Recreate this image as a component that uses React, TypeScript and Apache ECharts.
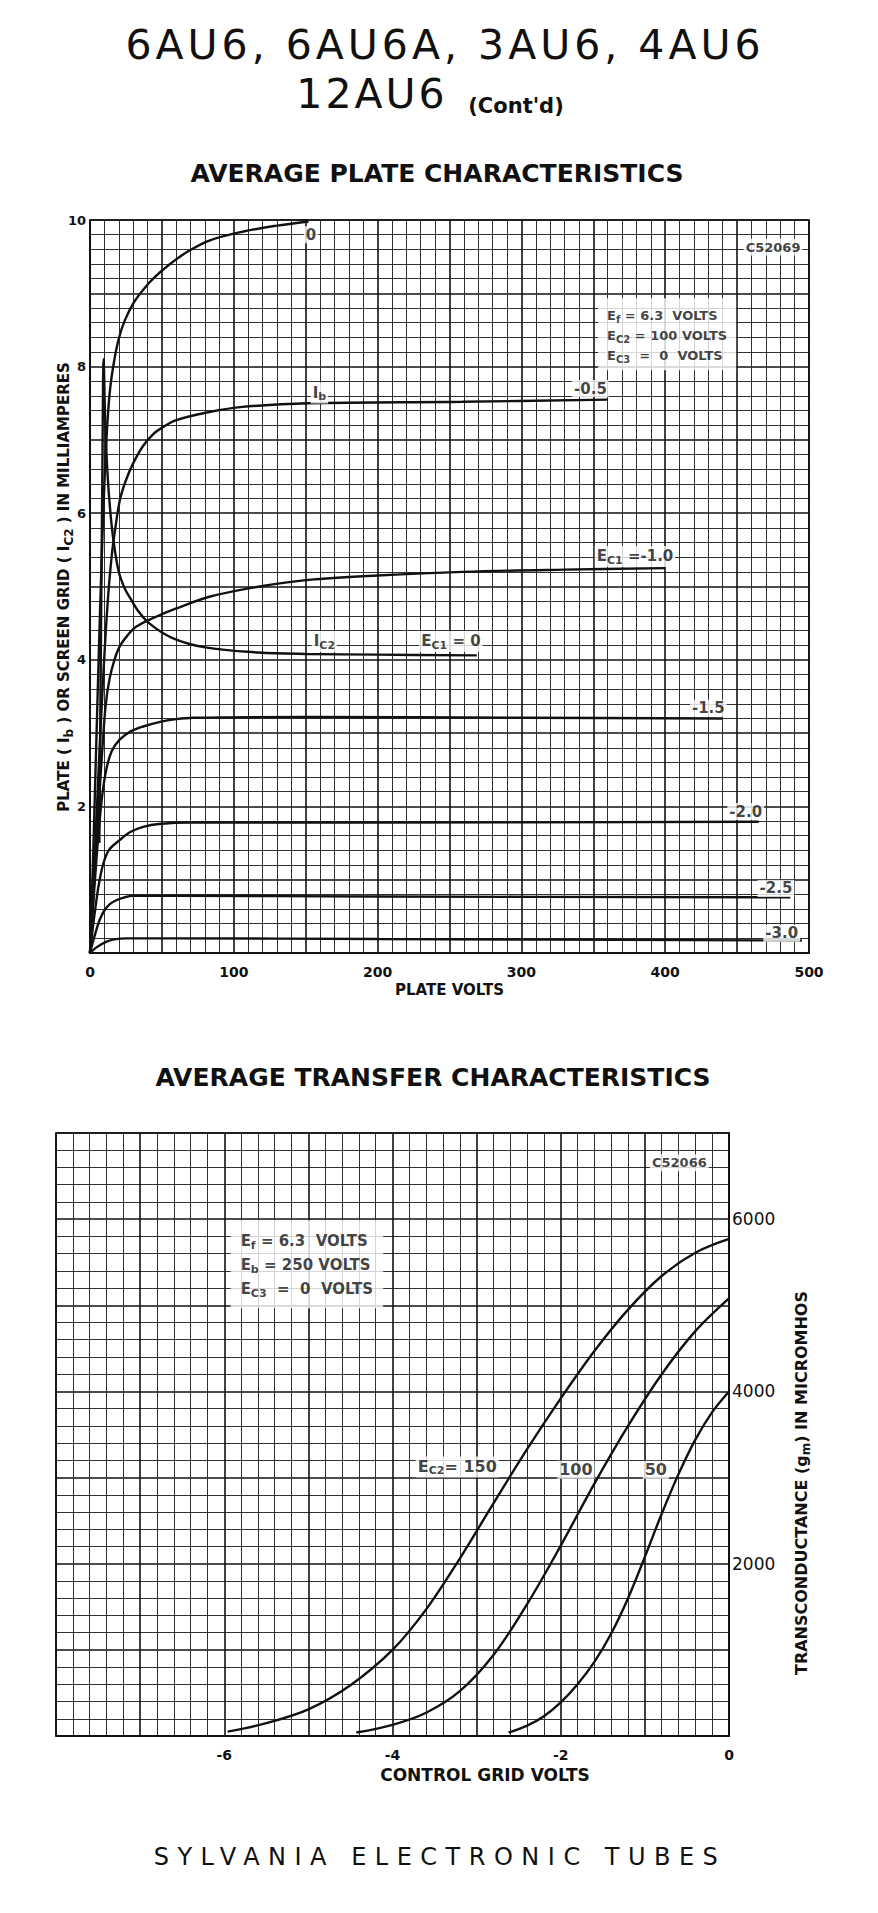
import React, { useEffect, useRef } from "react";
import * as echarts from "echarts";

// ---------- texts ----------
const TITLE_LINE1 = "6AU6, 6AU6A, 3AU6, 4AU6";
const TITLE_LINE2 = "12AU6";
const TITLE_CONT = "(Cont'd)";
const PLATE_TITLE = "AVERAGE PLATE CHARACTERISTICS";
const TRANSFER_TITLE = "AVERAGE TRANSFER CHARACTERISTICS";
const FOOTER = "SYLVANIA ELECTRONIC TUBES";
const PLATE_X_NAME = "PLATE VOLTS";
const PLATE_Y_NAME = "PLATE ( I{s|b} ) OR SCREEN GRID ( I{s|C2} ) IN MILLIAMPERES";
const TRANSFER_X_NAME = "CONTROL GRID VOLTS";
const TRANSFER_Y_NAME = "TRANSCONDUCTANCE (g{s|m}) IN MICROMHOS";

// ---------- plate characteristics: [plate volts, mA] ----------
const ib0: number[][] = [[0, 0], [2, 1.2], [4, 2.6], [6, 4.0], [8, 5.3], [10, 6.4], [12, 7.2], [14, 7.7], [17, 8.1], [20, 8.38], [24, 8.62], [30, 8.86], [37, 9.05], [45, 9.22], [55, 9.39], [68, 9.57], [83, 9.72], [106, 9.84], [129, 9.92], [152, 9.98]];
const ib05: number[][] = [[0, 0], [3, 1.2], [6, 2.5], [9, 3.7], [12, 4.7], [15, 5.4], [18, 5.85], [21, 6.2], [25, 6.45], [30, 6.68], [37, 6.92], [44, 7.08], [52, 7.19], [60, 7.27], [83, 7.38], [106, 7.45], [152, 7.5], [259, 7.52], [360, 7.55]];
const ib10: number[][] = [[0, 0], [3, 1.0], [6, 2.0], [9, 2.9], [11, 3.4], [13.7, 3.75], [17, 4.0], [20.6, 4.18], [26, 4.33], [32, 4.45], [44, 4.57], [60, 4.7], [83, 4.86], [118, 5.0], [152, 5.09], [200, 5.15], [259, 5.2], [330, 5.23], [400, 5.25]];
const ib15: number[][] = [[0, 0], [2, 0.6], [4, 1.15], [6, 1.65], [8.5, 2.15], [11.3, 2.5], [15, 2.75], [20.6, 2.91], [28, 3.02], [37, 3.09], [48, 3.15], [60, 3.19], [72, 3.21], [150, 3.22], [300, 3.21], [440, 3.2]];
const ib20: number[][] = [[0, 0], [2, 0.35], [4, 0.65], [6, 0.92], [9, 1.2], [13, 1.4], [20.6, 1.54], [28, 1.65], [37, 1.72], [48, 1.76], [70, 1.78], [200, 1.78], [465, 1.79]];
const ib25: number[][] = [[0, 0], [3, 0.22], [6.7, 0.45], [10, 0.58], [14, 0.67], [18.3, 0.72], [24, 0.76], [30, 0.78], [60, 0.78], [200, 0.77], [487, 0.76]];
const ib30: number[][] = [[0, 0], [4, 0.07], [8, 0.12], [12, 0.16], [18, 0.19], [25, 0.2], [60, 0.2], [200, 0.19], [495, 0.17]];
const ic2: number[][] = [[6.5, 1.5], [7.5, 4.0], [8.5, 6.3], [9.5, 8.1], [10.5, 7.3], [12, 6.6], [14, 6.05], [16.5, 5.6], [20, 5.2], [24, 4.98], [28, 4.84], [33, 4.68], [41, 4.5], [57, 4.3], [80, 4.17], [117, 4.1], [150, 4.08], [200, 4.07], [269, 4.06]];

const plateLabelPos: number[][] = [[153.7, 9.8], [159.5, 7.64], [348, 7.7], [379, 5.41], [163, 4.25], [251, 4.25], [430, 3.34], [456, 1.93], [477, 0.88], [481, 0.27]];
const plateLabelText: string[] = ["0", "I{s|b}", "-0.5", "E{s|C1} =-1.0", "I{s|C2}", "E{s|C1} = 0", "-1.5", "-2.0", "-2.5", "-3.0"];
const plateCodePos: number[] = [475, 9.63];
const plateCode = "C52069";
const plateNotePos: number[] = [353, 8.44];
const plateNote: string[] = ["E{s|f} = 6.3  VOLTS", "E{s|C2} = 100 VOLTS", "E{s|C3}  =  0  VOLTS"];

// ---------- transfer characteristics: [control grid volts, micromhos] ----------
const gm150: number[][] = [[-5.96, 50], [-5.5, 150], [-5.0, 310], [-4.5, 590], [-4.0, 1000], [-3.6, 1470], [-3.2, 2060], [-2.8, 2700], [-2.4, 3330], [-2.0, 3920], [-1.6, 4470], [-1.2, 4950], [-0.8, 5340], [-0.4, 5610], [0, 5770]];
const gm100: number[][] = [[-4.43, 40], [-4.0, 130], [-3.6, 270], [-3.2, 520], [-2.8, 940], [-2.4, 1530], [-2.0, 2210], [-1.6, 2930], [-1.2, 3600], [-0.8, 4200], [-0.4, 4700], [0, 5080]];
const gm50: number[][] = [[-2.62, 40], [-2.4, 120], [-2.2, 230], [-2.0, 390], [-1.8, 600], [-1.6, 860], [-1.4, 1190], [-1.2, 1600], [-1.0, 2080], [-0.8, 2580], [-0.6, 3040], [-0.4, 3440], [-0.2, 3760], [0, 4000]];

const transferLabelPos: number[][] = [[-3.23, 3124], [-1.82, 3090], [-0.87, 3090]];
const transferLabelText: string[] = ["E{s|C2}= 150", "100", "50"];
const transferCodePos: number[] = [-0.59, 6655];
const transferCode = "C52066";
const transferNotePos: number[] = [-5.93, 5476];
const transferNote: string[] = ["E{s|f} = 6.3  VOLTS", "E{s|b} = 250 VOLTS", "E{s|C3}  =  0  VOLTS"];

// ---------- styling ----------
const FONT = '"DejaVu Sans", "Liberation Sans", sans-serif';
const INK = "#111111";
const SPACING: Record<string, number> = { [TITLE_LINE1]: 4, [TITLE_LINE2]: 3, [FOOTER]: 8.5 };

const subRich = (size: number, pad: number) => ({
  s: { fontFamily: FONT, fontWeight: "bold", fontSize: size, color: INK, padding: [pad, 0, 0, 0] },
});

function axisBase(gridIndex: number) {
  return {
    type: "value" as const,
    gridIndex,
    axisLine: { show: true, onZero: false, lineStyle: { color: INK, width: 1.7 } },
    axisTick: { show: false },
    splitLine: { show: true, lineStyle: { color: INK, width: 1.6 } },
    minorTick: { show: false, splitNumber: 5 },
    minorSplitLine: { show: true, lineStyle: { color: "#303030", width: 1 } },
  };
}

function curve(data: number[][], gridIndex: number) {
  return {
    type: "line",
    xAxisIndex: gridIndex,
    yAxisIndex: gridIndex,
    data,
    showSymbol: false,
    symbol: "none",
    smooth: 0.35,
    silent: true,
    z: 4,
    lineStyle: { color: INK, width: 2.4 },
  };
}

function labelSeries(gridIndex: number, items: any[]) {
  return {
    type: "scatter",
    xAxisIndex: gridIndex,
    yAxisIndex: gridIndex,
    symbolSize: 1,
    itemStyle: { color: "rgba(0,0,0,0)" },
    silent: true,
    z: 10,
    data: items,
    label: {
      show: true,
      position: "inside",
      color: INK,
      fontFamily: FONT,
      fontSize: 15,
      fontWeight: "bold",
      backgroundColor: "#fff",
      padding: [1, 2],
      rich: subRich(11, 8),
    },
  };
}

function buildOption(): any {
  const plateItems: any[] = plateLabelText.map((t, i) => ({ value: plateLabelPos[i], label: { formatter: t } }));
  plateItems.push({ value: plateCodePos, label: { formatter: plateCode, fontSize: 13, padding: [2, 2] } });
  plateItems.push({
    value: plateNotePos,
    label: {
      formatter: plateNote.join("\n"),
      position: "right",
      distance: 0,
      fontSize: 13,
      lineHeight: 20,
      padding: [7, 9, 5, 9],
      rich: subRich(10, 8),
    },
  });

  const transferItems: any[] = transferLabelText.map((t, i) => ({ value: transferLabelPos[i], label: { formatter: t, fontSize: 16 } }));
  transferItems.push({ value: transferCodePos, label: { formatter: transferCode, fontSize: 13, padding: [2, 2] } });
  transferItems.push({
    value: transferNotePos,
    label: {
      formatter: transferNote.join("\n"),
      position: "right",
      distance: 0,
      fontSize: 15,
      lineHeight: 24,
      padding: [9, 10, 7, 10],
      rich: subRich(11, 9),
    },
  });

  const textStyle = (size: number, weight: any = "bold") => ({
    fontFamily: FONT,
    fontSize: size,
    fontWeight: weight,
    fill: INK,
    align: "center",
    verticalAlign: "middle",
  });

  return {
    animation: false,
    backgroundColor: "#fff",
    grid: [
      { left: 90, top: 220, width: 719, height: 733, show: true, borderColor: INK, borderWidth: 1.7, outerBoundsMode: "none" },
      { left: 56, top: 1133, width: 673, height: 603, show: true, borderColor: INK, borderWidth: 1.7, outerBoundsMode: "none" },
    ],
    xAxis: [
      {
        ...axisBase(0),
        min: 0,
        max: 500,
        interval: 50,
        axisLabel: {
          margin: 12,
          color: INK,
          fontFamily: FONT,
          fontSize: 14,
          fontWeight: "bold",
          formatter: (v: number) => (v % 100 === 0 ? String(v) : ""),
        },
        name: PLATE_X_NAME,
        nameLocation: "middle",
        nameGap: 29,
        nameTextStyle: { color: INK, fontFamily: FONT, fontSize: 15, fontWeight: "bold" },
      },
      {
        ...axisBase(1),
        min: -8,
        max: 0,
        interval: 1,
        axisLabel: {
          margin: 12,
          color: INK,
          fontFamily: FONT,
          fontSize: 14,
          fontWeight: "bold",
          formatter: (v: number) => {
            const r = Math.round(v);
            return r % 2 === 0 && r > -8 ? String(r === 0 ? 0 : r) : "";
          },
        },
      },
    ],
    yAxis: [
      {
        ...axisBase(0),
        min: 0,
        max: 10,
        interval: 1,
        axisLabel: {
          margin: 4,
          color: INK,
          fontFamily: FONT,
          fontSize: 13,
          fontWeight: "bold",
          formatter: (v: number) => (v % 2 === 0 && v > 0 ? String(v) : ""),
        },
      },
      {
        ...axisBase(1),
        position: "right",
        min: 0,
        max: 7000,
        interval: 1000,
        axisLabel: {
          margin: 3,
          color: INK,
          fontFamily: FONT,
          fontSize: 17,
          formatter: (v: number) => (v % 2000 === 0 && v > 0 ? String(v) : ""),
        },
      },
    ],
    series: [
      curve(ib0, 0),
      curve(ib05, 0),
      curve(ib10, 0),
      curve(ib15, 0),
      curve(ib20, 0),
      curve(ib25, 0),
      curve(ib30, 0),
      curve(ic2, 0),
      curve(gm150, 1),
      curve(gm100, 1),
      curve(gm50, 1),
      labelSeries(0, plateItems),
      labelSeries(1, transferItems),
    ],
    graphic: [
      { type: "text", x: 445, y: 45, silent: true, style: { text: TITLE_LINE1, ...textStyle(41, "normal") } },
      { type: "text", x: 372, y: 94, silent: true, style: { text: TITLE_LINE2, ...textStyle(41, "normal") } },
      { type: "text", x: 516, y: 106, silent: true, style: { text: TITLE_CONT, ...textStyle(21, "bold") } },
      { type: "text", x: 437, y: 173, silent: true, style: { text: PLATE_TITLE, ...textStyle(25, "bold") } },
      { type: "text", x: 433, y: 1077, silent: true, style: { text: TRANSFER_TITLE, ...textStyle(25, "bold") } },
      { type: "text", x: 440, y: 1857, silent: true, style: { text: FOOTER, ...textStyle(24, "normal") } },
      { type: "text", x: 485, y: 1775, silent: true, style: { text: TRANSFER_X_NAME, ...textStyle(17, "bold") } },
      {
        type: "text",
        x: 64,
        y: 587,
        rotation: Math.PI / 2,
        silent: true,
        style: { text: PLATE_Y_NAME, ...textStyle(15, "bold"), rich: subRich(12, 9) },
      },
      {
        type: "text",
        x: 801,
        y: 1483,
        rotation: Math.PI / 2,
        silent: true,
        style: { text: TRANSFER_Y_NAME, ...textStyle(16, "bold"), rich: subRich(12, 9) },
      },
    ],
  };
}

export default function App() {
  const ref = useRef<HTMLDivElement>(null);
  useEffect(() => {
    const el = ref.current;
    if (!el) return;
    const chart = echarts.init(el, null, { renderer: "svg" });
    chart.setOption(buildOption());
    const applySpacing = () => {
      el.querySelectorAll("text").forEach((t) => {
        const s = SPACING[(t.textContent || "").trim()];
        if (s !== undefined) t.setAttribute("letter-spacing", String(s));
      });
    };
    applySpacing();
    chart.on("finished", applySpacing);
    return () => {
      chart.dispose();
    };
  }, []);
  return (
    <div
      ref={ref}
      style={{ position: "absolute", left: 0, top: 0, width: 878, height: 1913, background: "#fff" }}
    />
  );
}
